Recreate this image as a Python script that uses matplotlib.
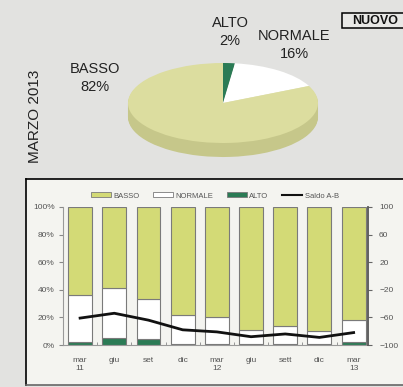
import matplotlib
matplotlib.use("Agg")
import matplotlib.pyplot as plt
from matplotlib.patches import Rectangle, Patch
from matplotlib.lines import Line2D

plt.rcParams['font.family'] = ['Liberation Sans', 'DejaVu Sans']

# Torta: marzo 2013
pie_labels = ["ALTO", "NORMALE", "BASSO"]
pie_values = [2, 16, 82]

# Serie storica (percentuali)
periodi = ["mar\n11", "giu", "set", "dic", "mar\n12", "giu", "sett", "dic", "mar\n13"]
alto = [2, 5, 4, 1, 1, 1, 1, 1, 2]
normale = [34, 36, 29, 21, 19, 10, 13, 9, 16]
basso = [64, 59, 67, 78, 80, 89, 86, 90, 82]
saldo = [-61, -54, -64, -78, -81, -88, -84, -89, -82]

BG = "#e2e2e0"
PANEL = "#f4f4f0"
GIALLO = "#d3da76"
VERDE = "#2b7b55"

W, H = 403, 387
fig = plt.figure(figsize=(W / 100, H / 100), dpi=100, facecolor=BG)


def fx(px):
    return px / W


def fy(py):
    return 1 - py / H


# riquadro inferiore
fig.patches.append(Rectangle((fx(26), fy(385)), 1, fy(179) - fy(385),
                             transform=fig.transFigure, fc=PANEL, ec="none", zorder=-5))
fig.lines.append(Line2D([fx(26), 1], [fy(179), fy(179)], transform=fig.transFigure,
                        color="black", lw=1.2))
fig.lines.append(Line2D([fx(26), fx(26)], [fy(179), fy(385)], transform=fig.transFigure,
                        color="black", lw=1.2))
fig.lines.append(Line2D([fx(26), 1], [fy(385), fy(385)], transform=fig.transFigure,
                        color="#666666", lw=1.2))

# torta "3d"
axp = fig.add_axes([fx(128), fy(159), fx(318) - fx(128), fy(63) - fy(159)])
top_cols = [VERDE, "white", "#dcdd9f"]
side_cols = ["#1f5e40", "#e2e2c0", "#c6c78a"]
n = 14
depth = 0.35
for k in range(n, 0, -1):
    axp.pie(pie_values, colors=side_cols, startangle=90, counterclock=False,
            center=(0, -depth * k / n), radius=1, wedgeprops=dict(linewidth=0))
axp.pie(pie_values, colors=top_cols, startangle=90, counterclock=False,
        center=(0, 0), radius=1, wedgeprops=dict(linewidth=0))
axp.set_aspect("auto")
axp.set_xlim(-1, 1)
axp.set_ylim(-1.4, 1.0)
axp.axis("off")

fig.text(fx(95), fy(78), "BASSO\n82%", ha="center", va="center", fontsize=10.5,
         linespacing=1.35, color="#222222")
fig.text(fx(230), fy(32), "ALTO\n2%", ha="center", va="center", fontsize=10.5,
         linespacing=1.45, color="#222222")
fig.text(fx(294), fy(45), "NORMALE\n16%", ha="center", va="center", fontsize=10.5,
         linespacing=1.45, color="#222222")
fig.text(fx(35), fy(116), "MARZO 2013", rotation=90, ha="center", va="center",
         fontsize=11, color="#222222")

# etichetta NUOVO
fig.patches.append(Rectangle((fx(342), fy(28)), 0.2, fy(13) - fy(28),
                             transform=fig.transFigure, fc="#e8e8e6", ec="black", lw=1.1))
fig.text(fx(352), fy(20.5), "NUOVO", ha="left", va="center", fontsize=9,
         fontweight="bold", color="#111111")

# grafico a barre
ax = fig.add_axes([fx(63), fy(345), fx(368) - fx(63), fy(207) - fy(345)])
ax.set_facecolor(PANEL)
x = list(range(len(periodi)))
bw = 0.70
ec = "#7a7a7a"
ax.bar(x, alto, bw, color=VERDE, edgecolor=ec, lw=0.8)
base_n = alto
ax.bar(x, normale, bw, bottom=base_n, color="white", edgecolor=ec, lw=0.8)
base_b = [a + b for a, b in zip(alto, normale)]
ax.bar(x, basso, bw, bottom=base_b, color=GIALLO, edgecolor=ec, lw=0.8)
ax.set_xlim(-0.5, 8.42)
ax.set_ylim(0, 100)
ax.set_yticks([0, 20, 40, 60, 80, 100])
ax.set_yticklabels(["0%", "20%", "40%", "60%", "80%", "100%"])
ax.set_xticks(x)
ax.set_xticklabels(periodi)
ax.set_xticks([i + 0.5 for i in x[:-1]], minor=True)
ax.tick_params(axis="x", which="major", length=0, pad=9, labelsize=6, labelcolor="#555555")
ax.tick_params(axis="x", which="minor", direction="in", length=2.5, color="#888888")
ax.tick_params(axis="y", length=3, color="#888888", labelsize=6, labelcolor="#555555", pad=3)
ax.spines["top"].set_visible(False)
ax.spines["left"].set_color("#999999")
ax.spines["bottom"].set_color("#999999")
ax.spines["right"].set_visible(False)

ax2 = ax.twinx()
ax2.plot(x, saldo, color="#111111", lw=2)
ax2.set_ylim(-100, 100)
ax2.set_yticks([-100, -60, -20, 20, 60, 100])
ax2.tick_params(axis="y", length=3, color="#666666", labelsize=6, labelcolor="#555555", pad=5)
for s in ["top", "left", "bottom"]:
    ax2.spines[s].set_visible(False)
ax2.spines["right"].set_color("#555555")
ax2.spines["right"].set_linewidth(1.3)

handles = [Patch(fc=GIALLO, ec=ec, lw=0.6), Patch(fc="white", ec=ec, lw=0.6),
           Patch(fc=VERDE, ec=ec, lw=0.6), Line2D([], [], color="#111111", lw=1.5)]
fig.legend(handles, ["BASSO", "NORMALE", "ALTO", "Saldo A-B"], loc="center",
           bbox_to_anchor=(fx(215), fy(196)), ncol=4, frameon=False, fontsize=5.5,
           handlelength=2.6, handleheight=0.6, columnspacing=1.8, handletextpad=0.3,
           labelcolor="#555555")

fig.savefig("out.png", dpi=100, facecolor=BG)
